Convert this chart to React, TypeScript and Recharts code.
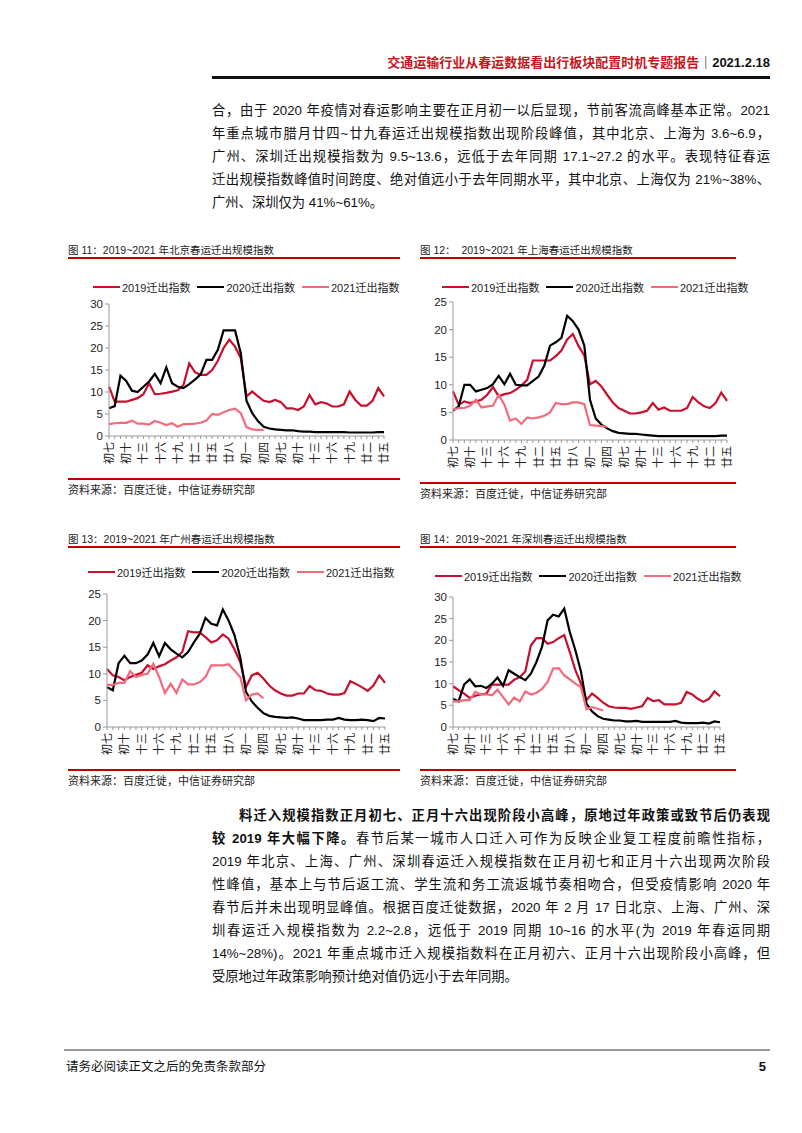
import React from "react";
import { LineChart, Line, XAxis, YAxis } from "recharts";

// 12th lunar month 初七..三十, then 1st month 初一..廿五
const days = [
  "初七", "初八", "初九", "初十", "十一", "十二", "十三", "十四", "十五", "十六",
  "十七", "十八", "十九", "二十", "廿一", "廿二", "廿三", "廿四", "廿五", "廿六",
  "廿七", "廿八", "廿九", "三十", "初一", "初二", "初三", "初四", "初五", "初六",
  "初七", "初八", "初九", "初十", "十一", "十二", "十三", "十四", "十五", "十六",
  "十七", "十八", "十九", "二十", "廿一", "廿二", "廿三", "廿四", "廿五",
];

const bj2019 = [11.2, 7.8, 7.8, 7.8, 8.2, 8.6, 9.5, 12.0, 9.5, 9.6, 9.8, 10.1, 10.4, 11.6, 16.5, 14.5, 13.9, 13.9, 15.0, 17.1, 20.0, 21.9, 20.3, 17.7, 9.0, 10.1, 9.0, 8.0, 7.7, 8.2, 7.7, 6.3, 6.3, 5.9, 6.7, 9.3, 7.2, 7.7, 7.4, 6.7, 6.7, 7.2, 10.1, 8.2, 6.9, 6.9, 8.0, 10.9, 9.0];
const bj2020 = [6.3, 6.8, 13.7, 12.5, 10.3, 10.0, 11.2, 12.4, 14.1, 12.0, 15.6, 12.0, 11.2, 10.9, 11.8, 12.8, 14.0, 17.3, 17.3, 19.6, 24.0, 24.0, 24.0, 18.8, 8.0, 5.2, 3.4, 2.1, 1.7, 1.5, 1.4, 1.3, 1.3, 1.1, 1.0, 1.0, 0.9, 0.9, 0.9, 0.9, 0.9, 0.9, 0.8, 0.8, 0.8, 0.8, 0.8, 0.9, 0.9];
const bj2021 = [2.7, 2.9, 3.0, 3.0, 3.5, 2.8, 2.8, 2.6, 3.4, 3.0, 2.5, 2.9, 2.1, 2.7, 2.7, 2.8, 3.0, 3.5, 5.0, 4.8, 5.4, 5.9, 6.2, 5.2, 2.0, 1.5, 1.4, 1.4];

const sh2019 = [8.8, 6.4, 7.0, 6.7, 7.0, 7.3, 8.2, 9.6, 7.9, 8.3, 8.5, 9.1, 9.9, 10.9, 14.4, 14.4, 14.4, 14.4, 15.2, 16.2, 18.2, 19.2, 17.0, 15.3, 10.1, 10.7, 9.7, 8.2, 6.8, 5.8, 5.3, 4.8, 4.8, 5.0, 5.3, 6.7, 5.5, 5.9, 5.3, 5.3, 5.3, 5.8, 7.8, 6.8, 6.1, 5.8, 6.7, 8.6, 7.1];
const sh2020 = [5.3, 6.1, 10.0, 10.0, 8.8, 9.1, 9.4, 10.1, 11.6, 10.1, 12.0, 10.0, 9.9, 9.9, 10.7, 11.5, 13.5, 17.1, 17.7, 18.5, 22.5, 21.5, 20.0, 17.1, 7.3, 3.9, 2.8, 2.1, 1.6, 1.3, 1.2, 1.1, 1.1, 1.0, 0.9, 0.8, 0.7, 0.7, 0.7, 0.7, 0.7, 0.7, 0.7, 0.7, 0.7, 0.7, 0.7, 0.8, 0.8];
const sh2021 = [5.5, 5.8, 5.8, 6.2, 7.3, 5.9, 6.1, 6.2, 8.2, 6.4, 3.5, 3.9, 2.9, 4.1, 3.9, 4.1, 4.4, 5.0, 6.7, 6.5, 6.5, 6.8, 6.8, 6.5, 2.7, 2.6, 2.5, 2.4];

const gz2019 = [10.9, 9.7, 9.4, 8.8, 9.4, 9.8, 10.2, 11.6, 10.9, 11.4, 11.8, 12.5, 13.1, 14.1, 18.0, 17.8, 17.8, 16.9, 15.9, 16.3, 17.4, 16.6, 14.6, 12.2, 7.5, 9.7, 10.2, 9.1, 7.8, 6.9, 6.3, 5.9, 5.9, 6.3, 6.3, 7.7, 6.9, 6.8, 6.3, 6.1, 6.1, 6.4, 8.6, 8.1, 7.5, 6.8, 7.8, 9.7, 8.3];
const gz2020 = [7.5, 6.9, 12.0, 13.4, 12.0, 12.0, 12.5, 13.6, 15.8, 13.3, 15.8, 14.6, 13.8, 13.1, 14.1, 15.9, 17.5, 20.5, 19.4, 19.1, 22.1, 20.0, 17.3, 13.1, 6.6, 4.8, 3.6, 2.6, 2.1, 1.9, 1.8, 1.7, 1.8, 1.6, 1.3, 1.3, 1.3, 1.3, 1.4, 1.4, 1.7, 1.4, 1.3, 1.3, 1.4, 1.3, 1.1, 1.7, 1.6];
const gz2021 = [7.9, 7.9, 8.3, 8.3, 10.5, 9.4, 9.8, 10.0, 11.9, 9.4, 6.4, 8.1, 6.4, 8.9, 8.0, 8.0, 8.4, 9.4, 11.6, 11.6, 11.6, 11.8, 10.6, 9.4, 5.0, 6.1, 6.3, 5.4];

const sz2019 = [9.4, 8.5, 7.7, 6.7, 7.2, 7.5, 7.7, 9.8, 9.8, 9.8, 9.8, 10.9, 11.5, 12.8, 18.8, 20.5, 20.5, 19.2, 19.6, 20.5, 21.2, 17.3, 13.1, 10.0, 6.2, 7.7, 6.7, 5.6, 4.8, 4.5, 4.4, 4.4, 4.2, 4.5, 4.8, 6.7, 6.0, 6.2, 5.2, 5.2, 5.2, 5.6, 8.1, 7.5, 6.5, 5.8, 6.5, 8.2, 7.1];
const sz2020 = [6.5, 5.9, 9.8, 11.0, 9.4, 9.5, 9.0, 10.0, 11.4, 9.5, 13.1, 12.3, 11.5, 10.8, 12.3, 15.0, 18.5, 24.6, 25.9, 25.5, 27.3, 21.9, 17.7, 12.8, 5.4, 3.6, 2.5, 1.9, 1.7, 1.5, 1.5, 1.3, 1.3, 1.4, 1.2, 1.2, 1.2, 1.2, 1.2, 1.2, 1.4, 1.0, 0.9, 0.9, 0.9, 1.0, 0.8, 1.3, 1.1];
const sz2021 = [5.9, 5.9, 6.2, 6.2, 8.1, 7.5, 7.5, 7.3, 8.6, 6.9, 5.2, 6.8, 5.9, 8.2, 7.5, 7.9, 8.8, 10.4, 13.5, 13.6, 11.9, 11.0, 10.0, 9.2, 4.1, 4.6, 4.2, 3.8];

const seriesNames = ["2019迁出指数", "2020迁出指数", "2021迁出指数"];
const colors = ["#C8102E", "#000000", "#F26B7C"];
const RED = "#C00000";
const FONT = "'Liberation Sans', Arial, 'Noto Sans CJK SC', sans-serif";

const buildRows = (a: number[], b: number[], c: number[]) =>
  days.map((d, i) => ({ idx: i, day: d, y2019: a[i], y2020: b[i], y2021: i < c.length ? c[i] : null }));

const XTick = (props: any) => {
  const { x, y, payload } = props;
  const i = Number(payload.value);
  if (i % 3 !== 0) return <g />;
  return (
    <g transform={`translate(${x},${y + 1}) rotate(-90)`}>
      <text x={0} y={0} dy="0.36em" textAnchor="end" fontSize={11} fill="#222" fontFamily={FONT}>
        {days[i]}
      </text>
    </g>
  );
};

type PanelProps = {
  title: string;
  left: number;
  right: number;
  titleY: number;
  legendX: number;
  legendY: number;
  plot: { x0: number; x1: number; y0: number; y1: number };
  yMax: number;
  bottomLineY: number;
  rows: any[];
};

const Panel = ({ title, left, right, titleY, legendX, legendY, plot, yMax, bottomLineY, rows }: PanelProps) => {
  const yw = 40;
  const mt = 6;
  const mr = 6;
  const xh = 34;
  const ticks: number[] = [];
  for (let v = 0; v <= yMax; v += 5) ticks.push(v);
  return (
    <>
      <div style={{ position: "absolute", left, top: titleY - 8, fontSize: 10.5, lineHeight: "16px", color: "#222", whiteSpace: "pre" }}>
        {title}
      </div>
      <div style={{ position: "absolute", left, top: titleY + 7, width: right - left, height: 1.5, background: RED }} />
      <div style={{ position: "absolute", left: legendX, top: legendY - 8, height: 16, display: "flex", alignItems: "center", fontSize: 11, color: "#222", whiteSpace: "nowrap" }}>
        {seriesNames.map((n, k) => (
          <React.Fragment key={n}>
            <span style={{ display: "inline-block", width: 27, height: 2.5, background: colors[k], marginRight: 2 }} />
            <span style={{ marginRight: 7 }}>{n}</span>
          </React.Fragment>
        ))}
      </div>
      <div style={{ position: "absolute", left: plot.x0 - yw, top: plot.y0 - mt }}>
        <LineChart
          width={plot.x1 - plot.x0 + yw + mr}
          height={plot.y1 - plot.y0 + mt + xh}
          data={rows}
          margin={{ top: mt, right: mr, left: 0, bottom: 0 }}
        >
          <XAxis
            dataKey="idx"
            type="category"
            interval={0}
            height={xh}
            tick={<XTick />}
            tickSize={3}
            axisLine={{ stroke: "#999" }}
            tickLine={{ stroke: "#999" }}
          />
          <YAxis
            type="number"
            domain={[0, yMax]}
            ticks={ticks}
            width={yw}
            tickSize={4}
            axisLine={{ stroke: "#999" }}
            tickLine={{ stroke: "#999" }}
            tick={{ fontSize: 11.5, fill: "#222", fontFamily: FONT }}
          />
          <Line type="linear" dataKey="y2019" stroke={colors[0]} strokeWidth={2.2} dot={false} isAnimationActive={false} />
          <Line type="linear" dataKey="y2020" stroke={colors[1]} strokeWidth={2.2} dot={false} isAnimationActive={false} />
          <Line type="linear" dataKey="y2021" stroke={colors[2]} strokeWidth={2.2} dot={false} isAnimationActive={false} />
        </LineChart>
      </div>
      <div style={{ position: "absolute", left, top: bottomLineY, width: right - left, height: 1.5, background: RED }} />
      <div style={{ position: "absolute", left, top: bottomLineY + 4, fontSize: 11, lineHeight: "16px", color: "#222" }}>
        资料来源：百度迁徙，中信证券研究部
      </div>
    </>
  );
};

const TL = ({ top, indent, last, children }: { top: number; indent?: number; last?: boolean; children: React.ReactNode }) => (
  <div
    style={{
      position: "absolute",
      left: 212 + (indent || 0),
      top,
      width: 770 - 212 - (indent || 0),
      height: 23,
      lineHeight: "23px",
      fontSize: 13.3,
      color: "#111",
      textAlign: last ? "left" : "justify",
      textAlignLast: last ? "left" : "justify",
    } as React.CSSProperties}
  >
    {children}
  </div>
);

const topLines = [
  "合，由于 2020 年疫情对春运影响主要在正月初一以后显现，节前客流高峰基本正常。2021",
  "年重点城市腊月廿四~廿九春运迁出规模指数出现阶段峰值，其中北京、上海为 3.6~6.9，",
  "广州、深圳迁出规模指数为 9.5~13.6，远低于去年同期 17.1~27.2 的水平。表现特征春运",
  "迁出规模指数峰值时间跨度、绝对值远小于去年同期水平，其中北京、上海仅为 21%~38%、",
  "广州、深圳仅为 41%~61%。",
];

const bottomLines = [
  "2019 年北京、上海、广州、深圳春运迁入规模指数在正月初七和正月十六出现两次阶段",
  "性峰值，基本上与节后返工流、学生流和务工流返城节奏相吻合，但受疫情影响 2020 年",
  "春节后并未出现明显峰值。根据百度迁徙数据，2020 年 2 月 17 日北京、上海、广州、深",
  "圳春运迁入规模指数为 2.2~2.8，远低于 2019 同期 10~16 的水平(为 2019 年春运同期",
  "14%~28%)。2021 年重点城市迁入规模指数料在正月初六、正月十六出现阶段小高峰，但",
  "受原地过年政策影响预计绝对值仍远小于去年同期。",
];

export default function App() {
  return (
    <div style={{ position: "absolute", left: 0, top: 0, width: 802, height: 1133, background: "#fff", fontFamily: FONT, overflow: "hidden" }}>
      <div style={{ position: "absolute", right: 32, top: 54, fontSize: 13, fontWeight: "bold", lineHeight: "18px", whiteSpace: "nowrap" }}>
        <span style={{ color: "#C8161D" }}>交通运输行业从春运数据看出行板块配置时机专题报告</span>
        <span style={{ color: "#111" }}>｜2021.2.18</span>
      </div>
      <div style={{ position: "absolute", left: 212, top: 76, width: 558, height: 2.5, background: "#111" }} />

      {topLines.map((t, k) => (
        <TL key={k} top={98.5 + k * 23} last={k === topLines.length - 1}>{t}</TL>
      ))}

      <Panel
        title="图 11：2019~2021 年北京春运迁出规模指数"
        left={68} right={400} titleY={250}
        legendX={93} legendY={287}
        plot={{ x0: 109, x1: 384, y0: 304, y1: 436 }}
        yMax={30} bottomLineY={478}
        rows={buildRows(bj2019, bj2020, bj2021)}
      />
      <Panel
        title="图 12：  2019~2021 年上海春运迁出规模指数"
        left={420} right={736} titleY={250}
        legendX={442} legendY={287}
        plot={{ x0: 453, x1: 727, y0: 302, y1: 440 }}
        yMax={25} bottomLineY={482}
        rows={buildRows(sh2019, sh2020, sh2021)}
      />
      <Panel
        title="图 13：2019~2021 年广州春运迁出规模指数"
        left={68} right={400} titleY={539}
        legendX={88} legendY={572}
        plot={{ x0: 107, x1: 385, y0: 594, y1: 727 }}
        yMax={25} bottomLineY={769}
        rows={buildRows(gz2019, gz2020, gz2021)}
      />
      <Panel
        title="图 14：2019~2021 年深圳春运迁出规模指数"
        left={420} right={736} titleY={539}
        legendX={435} legendY={576}
        plot={{ x0: 453, x1: 720, y0: 597, y1: 727 }}
        yMax={30} bottomLineY={769}
        rows={buildRows(sz2019, sz2020, sz2021)}
      />

      <TL top={804} indent={27}>
        <b>料迁入规模指数正月初七、正月十六出现阶段小高峰，原地过年政策或致节后仍表现</b>
      </TL>
      <TL top={827}>
        <b>较 2019 年大幅下降。</b>春节后某一城市人口迁入可作为反映企业复工程度前瞻性指标，
      </TL>
      {bottomLines.map((t, k) => (
        <TL key={k} top={850 + k * 23} last={k === bottomLines.length - 1}>{t}</TL>
      ))}

      <div style={{ position: "absolute", left: 64, top: 1049, width: 706, height: 2, background: "#999" }} />
      <div style={{ position: "absolute", left: 66, top: 1058, fontSize: 12.5, lineHeight: "18px", color: "#111" }}>
        请务必阅读正文之后的免责条款部分
      </div>
      <div style={{ position: "absolute", right: 36, top: 1058, fontSize: 13, fontWeight: "bold", lineHeight: "18px", color: "#111" }}>
        5
      </div>
    </div>
  );
}
